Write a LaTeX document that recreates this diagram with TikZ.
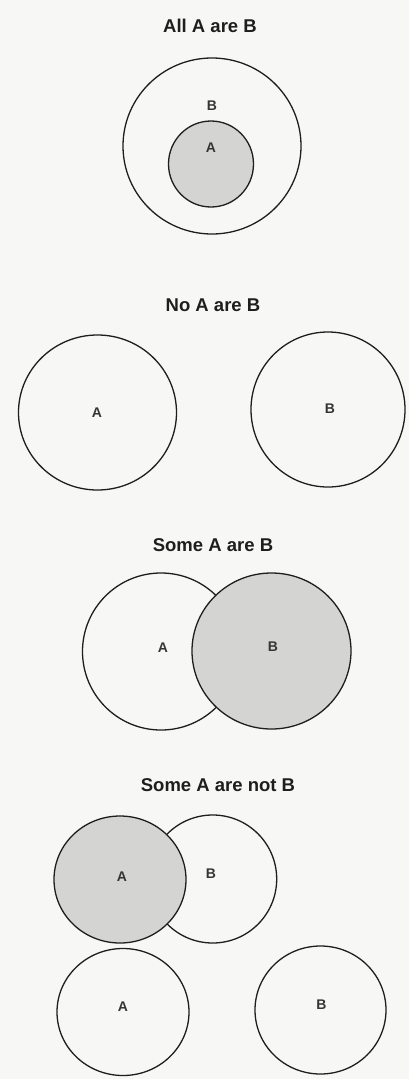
\documentclass[tikz,border=0pt]{standalone}
\usepackage{fontspec}
\setmainfont{Liberation Sans}
\usetikzlibrary{shapes.geometric}
\definecolor{paper}{RGB}{247,247,245}
\definecolor{shade}{RGB}{212,212,210}
\definecolor{ink}{RGB}{30,30,30}
\tikzset{
  venn/.style={ellipse, draw=ink, line width=1.3pt, inner sep=0pt},
  shaded/.style={fill=shade},
  title/.style={font=\bfseries\fontsize{18.5}{20}\selectfont, text=ink, inner sep=0pt},
  lab/.style={font=\bfseries\fontsize{14}{16}\selectfont, text=ink!90, inner sep=0pt}
}
\begin{document}
\begin{tikzpicture}[x=1pt,y=-1pt]
\fill[paper] (0,0) rectangle (409,1079);
\useasboundingbox (0,0) rectangle (409,1079);
% Section 1
\node[title] (t1) at (210,26) {All A are B};
\node[venn, minimum width=178pt, minimum height=176pt] (B1) at (212,146) {};
\node[venn, shaded, minimum width=85pt, minimum height=86pt] (A1) at (211,164) {};
\node[lab] (lB1) at (212,106) {B};
\node[lab] (lA1) at (211,148) {A};
% Section 2
\node[title] (t2) at (213,305) {No A are B};
\node[venn, minimum width=158pt, minimum height=155pt] (A2) at (97.5,412.5) {};
\node[venn, minimum width=154pt, minimum height=155pt] (B2) at (328,409.5) {};
\node[lab] (lA2) at (97,413) {A};
\node[lab] (lB2) at (330,409) {B};
% Section 3
\node[title] (t3) at (213,545) {Some A are B};
\node[venn, minimum width=157pt, minimum height=157pt] (A3) at (161,651.5) {};
\node[venn, shaded, minimum width=159pt, minimum height=156pt] (B3) at (271.5,651) {};
\node[lab] (lA3) at (163,648) {A};
\node[lab] (lB3) at (273,647) {B};
% Section 4
\node[title] (t4) at (218,785) {Some A are not B};
\node[venn, minimum width=128pt, minimum height=128pt] (B4) at (212.7,879) {};
\node[venn, shaded, minimum width=132pt, minimum height=127pt] (A4) at (120,879.5) {};
\node[lab] (lA4) at (122,877) {A};
\node[lab] (lB4) at (211,874) {B};
\node[venn, minimum width=132pt, minimum height=127pt] (A5) at (123,1012) {};
\node[venn, minimum width=131pt, minimum height=128pt] (B5) at (320.5,1010) {};
\node[lab] (lA5) at (123,1007) {A};
\node[lab] (lB5) at (321.5,1005) {B};
\end{tikzpicture}
\end{document}
